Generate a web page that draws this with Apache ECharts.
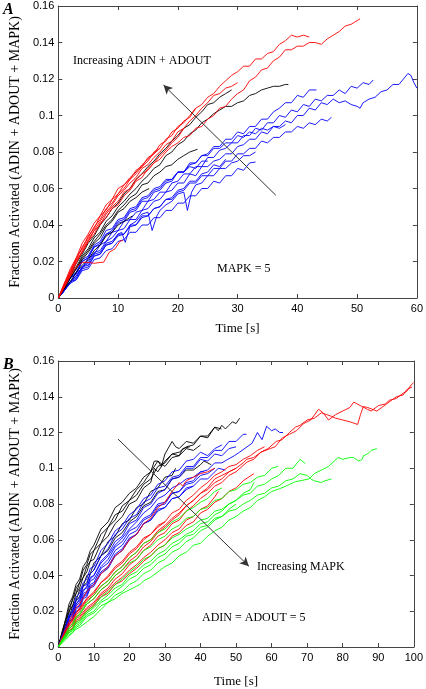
<!DOCTYPE html>
<html><head><meta charset="utf-8">
<script src="https://cdn.jsdelivr.net/npm/echarts@6/dist/echarts.min.js"></script>
<style>html,body{margin:0;padding:0;background:#fff}#c{width:426px;height:689px}</style>
</head><body><div id="c"></div>
<script>
// ---------- Panel A data (t [s], fraction) flat pairs ----------
const aRed = [
 [0,0,1,.007,2,.013,3,.021,4,.025,5,.031,6,.037,7,.04,8,.046,9,.05,10,.053,11,.058,12,.06,13,.065,14,.068,15,.07,16,.074,17,.076,18,.08,19,.083,20,.085,21,.088,22,.089,23,.093,24,.094,25,.098,26,.1,27,.104,28,.105,29,.109,30,.112,31,.114,32,.119,33,.121,34,.125,35,.126,36,.13,37,.132,38,.136,39,.136,40,.138,41,.138,42,.14,43,.14,44,.139,45,.142,46,.144,47,.146,48,.149,49,.15,50,.152,50.5,.153],
 [0,0,1,.008,2,.014,3,.022,4,.027,5,.034,6,.038,7,.045,8,.048,9,.054,10,.057,11,.062,12,.065,13,.07,14,.072,15,.077,16,.079,17,.084,18,.086,19,.091,20,.093,21,.097,22,.099,23,.104,24,.106,25,.11,26,.112,27,.116,28,.119,29,.122,30,.124,31,.127,32,.127,33,.131,34,.131,35,.134,36,.135,37,.139,38,.141,39,.144,40,.143,41,.144,42,.143],
 [0,0,1,.006,2,.014,3,.019,4,.026,5,.032,6,.037,7,.042,8,.047,9,.051,10,.056,11,.059,12,.063,13,.066,14,.071,15,.073,16,.077,17,.08,18,.084,19,.086,20,.091,21,.093,22,.097,23,.1,24,.104,25,.107,26,.111,27,.112,28,.115,29,.116,30,.118],
 [0,0,1,.007,2,.015,3,.021,4,.028,5,.033,6,.039,7,.043,8,.049,9,.052,10,.057,11,.06,12,.065,13,.068,14,.072,15,.075,16,.08,17,.082,18,.087,19,.089,20,.094,21,.096,22,.1,23,.104],
 [0,0,1,.006,2,.012,3,.02,4,.025,5,.031,6,.035,7,.041,8,.044,9,.049,10,.051,11,.056,12,.059,13,.064,14,.066,15,.071,16,.074,17,.078,18,.081,19,.085,20,.088,21,.093],
 [0,0,1,.008,2,.016,3,.022,4,.03,5,.035,6,.041,7,.045,8,.051,9,.054,10,.06,11,.062,12,.066,13,.069,14,.073,15,.076,16,.079,17,.082],
 [0,0,1,.006,2,.012,3,.017,4,.0195,5,.0195,6,.019,7,.0195,7.6,.0196,8.5,.025,9.5,.027,10.3,.031,10.8,.0316]
];
const aBlack = [
 [0,0,1,.006,2,.012,3,.017,4,.023,5,.027,6,.033,7,.036,8,.042,9,.045,10,.05,11,.053,12,.057,13,.06,14,.064,15,.067,16,.071,17,.073,18,.078,19,.08,20,.084,21,.086,22,.09,23,.092,24,.096,25,.098,26,.101,27,.103,28,.105,29,.105,30,.107,31,.108,32,.111,33,.112,34,.114,35,.115,36,.116,37,.116,38,.117,38.5,.117],
 [0,0,1,.007,2,.012,3,.019,4,.024,5,.03,6,.034,7,.04,8,.044,9,.049,10,.052,11,.057,12,.06,13,.065,14,.068,15,.072,16,.075,17,.079,18,.082,19,.086,20,.089,21,.093,22,.095,23,.099,24,.102,25,.106,26,.107,27,.11,28,.112,29,.114],
 [0,0,1,.005,2,.011,3,.016,4,.022,5,.026,6,.031,7,.035,8,.04,9,.043,10,.048,11,.051,12,.055,13,.057,14,.062,15,.063,16,.067,17,.069,18,.072,19,.073,20,.076,21,.078,22,.08,23.3,.0815],
 [0,0,1,.006,2,.011,3,.016,4,.021,5,.025,6,.03,7,.033,8,.039,9,.042,10,.047,11,.049,12,.053,13,.055,14,.058,15.2,.06],
 [0,0,1,.005,2,.009,3,.014,4,.018,5,.021,6,.026,7,.029,8,.034,9,.036,10,.04,11,.042,12.4,.045]
];
const aBlue = [
 [0,0,1,.004,2,.009,3,.012,4,.017,5,.02,6,.025,7,.026,8,.031,9,.033,10,.037,11,.038,12,.043,13,.043,14,.048,15,.049,16,.053,17,.054,18,.058,19,.059,20,.063,21,.063,22,.068,23,.067,24,.072,25,.072,26,.075,27,.076,28,.079,29,.079,30,.083,31,.084,32,.087,33,.087,34,.091,35,.09,36,.094,37,.094,38,.097,39,.096,40,.1,41,.1,42,.104,43,.103,44,.107,45,.106,46,.109,47,.107,48,.108,49,.106,50,.105,50.5,.104,51,.107,52,.109,53,.11,54,.113,55,.114,56,.117,57,.117,58,.121,58.5,.123,59,.122,59.5,.118,60,.115],
 [0,0,1,.005,2,.008,3,.014,4,.016,5,.022,6,.024,7,.029,8,.031,9,.036,10,.037,11,.042,12,.043,13,.047,14,.048,15,.053,16,.054,17,.058,18,.058,19,.063,20,.064,21,.068,22,.068,23,.072,24,.072,25,.077,26,.077,27,.081,28,.082,29,.085,30,.085,31,.089,32,.089,33,.093,34,.092,35,.096,36,.096,37,.1,38,.099,39,.103,40,.102,41,.106,42,.105,43,.109,44,.108,45,.111,46,.111,47,.114,48,.112,49,.116,50,.115,51,.118,52,.117,52.7,.1195],
 [0,0,1,.005,2,.011,3,.013,4,.02,5,.022,6,.028,7,.029,8,.035,9,.036,10,.041,11,.042,12,.047,13,.048,14,.053,15,.053,16,.058,17,.059,18,.063,19,.064,20,.069,21,.069,22,.074,23,.074,24,.078,25,.079,26,.083,27,.083,28,.087,29,.087,30,.091,31,.09,32,.094,33,.094,34,.098,35,.098,36,.102,37,.104,38,.107,39,.107,40,.111,41,.11,42,.114,43.2,.114],
 [0,0,1,.004,2,.009,3,.01,4,.016,5,.017,6,.023,7,.024,8,.029,9,.03,10,.035,11,.035,12,.04,13,.04,14,.045,15,.045,16,.049,17,.05,18,.054,19,.054,20,.058,21,.059,22,.063,23,.063,24,.067,25,.067,26,.071,27,.071,28,.075,29,.075,30,.079,31,.079,32,.082,33,.082,34,.086,35,.085,36,.088,37,.088,38,.091,39,.091,40,.094,41,.093,42,.096,43,.095,44,.098,45,.097,45.7,.099],
 [0,0,1,.004,2,.008,3,.01,4,.015,5,.016,6,.021,7,.022,8,.026,9,.027,10,.031,11,.032,12,.036,13,.036,14,.04,15,.04,16,.044,17,.044,18,.048,19,.048,20,.052,21,.052,22,.056,23,.056,24,.06,25,.06,26,.064,27,.063,28,.067,29,.067,30,.071,31,.07,32,.074,33,.0745],
 [0,0,1,.004,2,.009,3,.012,4,.017,5,.019,6,.024,7,.025,8,.03,9,.031,10,.035,10.6,.036,11.2,.0305,11.8,.037,12,.04,13,.042,14,.046,15,.047,15.7,.037,16.5,.045,17,.048,18,.051,19,.053,20,.057,21,.058,21.6,.048,22.3,.058,23,.062,24,.063,25,.067,26,.067,27,.071,28,.071,29,.074,30,.075,31,.078,32,.078,33,.08],
 [0,0,1,.005,2,.011,3,.014,4,.02,5,.022,6,.028,7,.03,8,.035,9,.037,10,.042,11,.043,12,.048,13,.049,14,.054,15,.055,16,.059,17,.06,18,.064,19,.065,20,.069,21,.069,22,.073,23,.074,24,.078,25,.078,26,.082,27,.082,28,.085,29,.085,30,.089,31,.088,32,.091,33,.09,34,.093,35,.092,36,.094,37,.093,38,.095],
 [0,0,1,.005,2,.011,3,.014,4,.021,5,.023,6,.029,7,.031,8,.037,9,.038,10,.043,11,.044,12,.049,13,.05,14,.055,15,.056,16,.06,17,.061,18,.065,19,.065,20,.069,21,.069,22,.072,23,.071,24,.075,25,.075],
 [0,0,1,.004,2,.009,3,.011,4,.017,5,.018,6,.023,7,.024,8,.029,9,.03,10,.034,11,.035,12,.039,13,.04,14,.044,15,.045,16,.049,17,.05,18,.054,19,.055,20,.059,21,.06,22,.064,23,.064,24,.068,25,.069,26,.073,27,.072,28,.076]
];
// ---------- Panel B data ----------
const bBlack = [
 [0,0,1,.008,2,.014,3,.022,4,.026,5,.033,6,.036,7,.043,8,.046,9,.052,10,.054,12,.063,14,.067,16,.074,18,.076,20,.082,22,.085,24,.091,26,.094,28,.101,30,.103,32,.108,34,.109,36,.112,38,.113,40,.118,42,.118,44,.123,45,.121,46,.124,47,.122,48,.124,49,.126,50,.125,51,.128],
 [0,0,1,.007,2,.015,3,.019,4,.027,5,.03,6,.036,7,.039,8,.045,9,.048,10,.054,12,.058,14,.067,16,.071,18,.079,20,.082,22,.088,24,.092,26,.098,27,.104,28,.104,29,.101,30,.108,32,.115,33,.112,34,.111,36,.115,38,.114,40,.118,42,.117,44,.123,45.9,.122],
 [0,0,1,.007,2,.012,3,.02,4,.023,5,.03,6,.033,7,.039,8,.042,9,.048,10,.049,12,.058,14,.062,16,.069,18,.073,20,.08,22,.082,24,.089,26,.092,27,.1,28,.098,30,.104,32,.108,34,.107,35,.111,37,.112],
 [0,0,1,.006,2,.012,3,.016,4,.023,5,.026,6,.032,7,.034,8,.04,9,.041,10,.047,12,.051,14,.059,16,.062,18,.069,20,.071,22,.078,24,.08,26,.087,28,.089,30,.095,32,.096,33,.1],
 [0,0,1,.006,2,.01,3,.017,4,.02,5,.026,6,.028,7,.034,8,.036,9,.041,10,.043,12,.051,14,.054,16,.061,18,.064,20,.07,22,.073,24,.079,26,.081,28,.087,30,.088,32,.094,34,.095,36,.099,38,.099,40,.102,41,.104,43,.102],
 [0,0,1,.008,2,.015,3,.024,4,.028,5,.035,6,.038,7,.045,8,.048,9,.054,10,.057,12,.066,14,.07,16,.078,18,.081,20,.086,22,.089,24,.095,26,.098,28,.104,30,.101,32,.106,34,.107,36,.111,38,.11,40,.113]
];
const bBlue = [
 [0,0,1,.005,2,.008,3,.014,4,.016,5,.022,6,.023,7,.029,8,.03,9,.035,10,.036,12,.044,14,.047,16,.054,18,.057,20,.063,22,.065,24,.071,26,.073,28,.079,30,.08,32,.086,34,.087,36,.092,38,.093,40,.098,42,.099,44,.103,46,.103,47.7,.105,49.5,.107,51,.109,53.1,.112,54.5,.114,56,.12,57.3,.116,58.6,.1235,60,.121,61,.122,62.3,.12,63.2,.12],
 [0,0,1,.006,2,.01,3,.017,4,.019,5,.026,6,.028,7,.034,8,.035,9,.041,10,.043,12,.051,14,.055,16,.063,18,.066,20,.072,22,.074,24,.081,26,.083,28,.089,30,.09,32,.095,34,.096,36,.101,38,.101,40,.106,42,.106,44,.11,46,.11,48,.115,50,.115,52,.119,52.9,.119],
 [0,0,1,.005,2,.009,3,.016,4,.018,5,.024,6,.026,7,.032,8,.033,9,.039,10,.04,12,.048,14,.052,16,.059,18,.062,20,.069,22,.071,24,.078,26,.08,28,.086,30,.088,32,.094,34,.095,36,.1,38,.1,40,.105,42,.104,44,.108,46,.107,48,.111,50,.112],
 [0,0,1,.004,2,.007,3,.013,4,.015,5,.02,6,.021,7,.027,8,.028,9,.033,10,.034,12,.041,14,.044,16,.051,18,.054,20,.06,22,.063,24,.069,26,.071,28,.076,30,.078,32,.083,34,.084,36,.089,38,.09,40,.094,42,.094,44,.098,45,.1,47,.099],
 [0,0,1,.006,2,.011,3,.018,4,.021,5,.028,6,.03,7,.036,8,.038,9,.044,10,.045,12,.054,14,.058,16,.065,18,.068,20,.074,22,.077,24,.083,26,.085,28,.091,30,.093,32,.098,34,.099,36,.104,38,.105,40,.109,42,.107,44,.111,46,.113],
 [0,0,1,.004,2,.008,3,.014,4,.016,5,.021,6,.023,7,.028,8,.029,9,.034,10,.035,12,.042,14,.045,16,.052,18,.055,20,.061,22,.063,24,.069,26,.071,28,.077,30,.078,32,.083,34,.084,36,.088,38,.09],
 [0,0,1,.005,2,.009,3,.015,4,.017,5,.023,6,.025,7,.03,8,.031,9,.037,10,.038,12,.045,14,.049,16,.056,18,.059,20,.065,22,.067,24,.072,26,.074,28,.08,30,.081,32,.086,34,.087,36,.091,38,.092,40,.096,42,.097,44,.1],
 [0,0,1,.005,2,.011,3,.016,4,.019,5,.024,6,.027,7,.031,8,.034,9,.038,10,.04,12,.047,14,.051,16,.057,18,.061,20,.066,22,.07,24,.075,26,.078,28,.083,30,.085,32,.089,34,.091,36,.094,38,.095,40,.098,41,.098]
];
const bRed = [
 [0,0,1,.004,2,.007,3,.011,4,.013,5,.017,6,.018,8,.024,10,.027,12,.032,14,.035,16,.04,18,.043,20,.048,22,.051,24,.056,26,.059,28,.064,30,.067,32,.071,34,.074,36,.079,38,.082,40,.086,42,.089,44,.094,46,.096,48,.098,50,.1,52,.103,53,.105,55,.106,57,.109,59.6,.111,61,.112,63,.117,65,.119,67,.121,69,.125,71,.127,73.2,.133,74.5,.131,76,.127,78,.13,80,.132,82,.134,83.1,.137,85,.135,86.9,.133,88,.132,90,.135,92,.136,93.1,.138,95,.139,97,.142,98,.143,99,.146,100,.148],
 [0,0,1,.004,2,.006,3,.01,4,.012,5,.016,6,.017,8,.022,10,.025,12,.03,14,.033,16,.038,18,.041,20,.046,22,.049,24,.054,26,.057,28,.062,30,.064,32,.069,34,.071,36,.076,38,.079,40,.083,42,.086,44,.09,46,.092,48,.096,50,.098,53.1,.1035,55,.105,57,.109,59,.111,61.3,.115,63,.116,65,.12,66.7,.123,68,.124,70,.127,72,.128,74,.131,75.5,.13,76.9,.129,78,.128,80,.127,82,.126,84.2,.1245,85,.13,85.8,.1345,87,.134,89.6,.132,91,.134,93,.137,95.1,.14,97,.141,98,.144,99.5,.1455],
 [0,0,1,.005,2,.008,3,.013,4,.015,5,.019,6,.021,8,.027,10,.03,12,.036,14,.039,16,.044,18,.047,20,.052,22,.055,24,.06,26,.063,28,.067,30,.07,32,.075,34,.077,36,.082,38,.085,40,.089,42,.092,44,.096,46,.098,48,.101,50,.102,52,.105,54,.107,56,.11,58,.112],
 [0,0,1,.004,2,.007,3,.012,4,.014,5,.018,6,.02,8,.026,10,.029,12,.034,14,.037,16,.042,18,.045,20,.05,22,.053,24,.058,26,.06,28,.065,30,.068,32,.072,34,.075,36,.079,38,.082,40,.086,42,.088,44,.092,46,.094,48,.098,50,.1],
 [0,0,1,.003,2,.006,3,.009,4,.011,5,.015,6,.016,8,.021,10,.024,12,.029,14,.032,16,.036,18,.039,20,.043,22,.046,24,.05,26,.053,28,.057,30,.06,32,.064,34,.066,36,.071,38,.073,40,.077,42,.079,44,.084,45,.087],
 [0,0,1,.005,2,.01,3,.014,4,.018,5,.022,6,.024,8,.031,10,.035,12,.041,14,.045,16,.051,18,.054,20,.06,22,.063,24,.069,26,.072,28,.078,30,.081,32,.087,34,.092,35,.09,36,.093,38,.095,40,.097,42,.098,44,.1],
 [0,0,1,.003,2,.006,3,.009,4,.01,5,.014,6,.015,8,.02,10,.023,12,.028,14,.03,16,.035,18,.037,20,.041,22,.044,24,.048,26,.051,28,.055,30,.057,32,.062,34,.064,36,.068,38,.07,40,.075,42,.077,44,.081,46,.083,48,.087,50,.089,52,.093,55,.097],
 [0,0,1,.004,2,.009,3,.012,4,.016,5,.019,6,.022,8,.027,10,.031,12,.036,14,.04,16,.045,18,.048,20,.053,22,.056,24,.061,26,.063,28,.068,30,.07]
];
const bGreen = [
 [0,0,1,.002,2,.004,3,.006,4,.008,5,.01,6,.011,8,.014,10,.017,12,.021,14,.025,16,.027,18,.03,20,.032,22,.034,23,.035,24,.037,26,.039,28,.042,30,.045,32,.047,34,.051,36,.053,38,.057,40,.058,42,.062,44,.065,46,.067,48,.071,50,.073,52,.076,54,.078,56,.082,58,.084,60,.087,62.3,.0886,64,.09,66.7,.0925,68,.093,70.5,.094,72,.097,74,.099,76,.101,78.7,.106,80,.105,82,.106,83,.106,84.5,.104,85.5,.105,85.8,.107,87,.108,88,.11,89.6,.111],
 [0,0,1,.003,2,.005,3,.008,4,.009,5,.012,6,.013,8,.018,10,.02,12,.025,14,.027,16,.031,18,.034,20,.038,22,.04,24,.044,26,.046,28,.05,30,.052,32,.056,34,.058,36,.062,38,.063,40,.067,42,.068,44,.072,46,.073,48,.076,50,.077,52,.08,54,.082,56,.085,58,.086,60,.089,62,.09,64,.093,66,.094,68,.097,70,.096,71,.094,72,.093,74,.092,75,.093,76.8,.094],
 [0,0,1,.003,2,.006,3,.009,4,.01,5,.014,6,.015,8,.02,10,.023,12,.028,14,.031,16,.035,18,.038,20,.042,22,.045,24,.049,26,.051,28,.055,30,.057,32,.061,34,.063,36,.066,38,.068,40,.071,42,.072,44,.076,46,.077,48,.08,50,.082,52,.085,54,.086,56,.09,58,.091,60,.094,62,.096,64,.1,66,.1,68,.105,69.5,.1025],
 [0,0,1,.003,2,.007,3,.01,4,.012,5,.016,6,.018,8,.024,10,.027,12,.032,14,.035,16,.04,18,.043,20,.047,22,.049,24,.054,26,.056,28,.06,30,.062,32,.066,34,.068,36,.072,38,.073,40,.077,42,.078,44,.082,46,.083,48,.087,50,.088,52,.091,54,.092,56,.095,58,.096,60,.1,61.8,.101],
 [0,0,1,.003,2,.006,3,.008,4,.01,5,.013,6,.014,8,.019,10,.022,12,.026,14,.029,16,.033,18,.035,20,.04,22,.042,24,.046,26,.048,28,.052,30,.054,32,.058,34,.06,36,.063,38,.065,40,.069,42,.07,44,.074,46,.076,48,.08,50,.082,52,.086,54,.088,55,.092],
 [0,0,1,.003,2,.005,3,.007,4,.008,5,.011,6,.012,8,.017,10,.019,12,.023,14,.025,16,.029,18,.031,20,.035,22,.037,24,.041,26,.043,28,.047,30,.049,32,.053,34,.055,36,.059,38,.061,40,.065,42,.067,44,.071,46,.073,48,.077,50,.08],
 [0,0,1,.004,2,.007,3,.011,4,.013,5,.017,6,.019,8,.025,10,.029,12,.034,14,.037,16,.042,18,.045,20,.05,22,.053,24,.058,26,.06,28,.064,30,.066,32,.07,34,.072,36,.076,38,.078,40,.081,42,.083,44,.087,46,.089]
];
// axis ranges / ticks
const yTicks = [0, 0.16, 0.02];
const xTicksA = [0, 60, 10];
const xTicksB = [0, 100, 10];
// annotation arrows in data coordinates [from, to]
const arrowA = [[36.4, 0.0563], [17.6, 0.1167]];
const arrowB = [[16.8, 0.1163], [53.6, 0.0452]];

function pairs(f){const o=[];for(let i=0;i<f.length;i+=2)o.push([f[i],f[i+1]]);return o;}

const AX = '#444';
const sans = 'Liberation Sans, Arial, sans-serif';
const serif = 'Liberation Serif, Times New Roman, serif';
function xAx(g, r, top, gap){
  return {gridIndex:g, type:'value', min:r[0], max:r[1], interval:r[2], position: top?'top':'bottom',
    axisLine:{show:true,onZero:false,lineStyle:{color:AX,width:1}},
    axisTick:{show:true,inside:true,length:4,lineStyle:{color:AX}},
    axisLabel:{show:!top,color:'#000',fontFamily:sans,fontSize:11,margin:5},
    splitLine:{show:false},
    name: top?'':'Time [s]', nameLocation:'middle', nameGap:gap||28,
    nameTextStyle:{color:'#000',fontFamily:serif,fontSize:13}};
}
function yAx(g, right){
  return {gridIndex:g, type:'value', min:yTicks[0], max:yTicks[1], interval:yTicks[2], position: right?'right':'left',
    axisLine:{show:true,onZero:false,lineStyle:{color:AX,width:1}},
    axisTick:{show:true,inside:true,length:4,lineStyle:{color:AX}},
    axisLabel:{show:!right,color:'#000',fontFamily:sans,fontSize:11,margin:4},
    splitLine:{show:false},
    name: right?'':'Fraction Activated (ADIN + ADOUT + MAPK)', nameLocation:'middle', nameGap:35, nameRotate:90,
    nameTextStyle:{color:'#000',fontFamily:serif,fontSize:14}};
}
const series=[];
function add(groups, color, g){
  groups.forEach(f=>series.push({type:'line',xAxisIndex:g*2,yAxisIndex:g*2,data:pairs(f),showSymbol:false,
    symbol:'none',silent:true,lineStyle:{color:color,width:0.9},animation:false}));
}
add(aBlue,'#0000ff',0); add(aBlack,'#000000',0); add(aRed,'#ff0000',0);
add(bBlack,'#000000',1); add(bBlue,'#0000ff',1); add(bRed,'#ff0000',1); add(bGreen,'#00ff00',1);
function arrowSeries(a,g){
  return {type:'line',xAxisIndex:g*2,yAxisIndex:g*2,data:[],silent:true,
    markLine:{silent:true,symbol:['none','arrow'],symbolSize:[7,9],animation:false,
      lineStyle:{color:'#333',width:1,type:'solid'},label:{show:false},
      data:[[{coord:a[0]},{coord:a[1]}]]}};
}
series.push(arrowSeries(arrowA,0), arrowSeries(arrowB,1));

const txt=(x,y,s,size)=>({type:'text',left:x,top:y,style:{text:s,fill:'#000',font:size+'px '+serif}});
const option={
  animation:false,
  grid:[{left:48,top:6,width:370,height:292},{left:48,top:361,width:367,height:289}],
  xAxis:[xAx(0,xTicksA,false,24),xAx(0,xTicksA,true),xAx(1,xTicksB,false,28),xAx(1,xTicksB,true)],
  yAxis:[yAx(0,false),yAx(0,true),yAx(1,false),yAx(1,true)],
  series:series,
  graphic:[
    {type:'text',left:3,top:2,style:{text:'A',fill:'#000',font:'italic bold 16px '+serif}},
    {type:'text',left:3,top:357,style:{text:'B',fill:'#000',font:'italic bold 16px '+serif}},
    txt(73,55,'Increasing ADIN + ADOUT',12),
    txt(217,263,'MAPK = 5',12),
    txt(257,561,'Increasing MAPK',12),
    txt(202,612,'ADIN = ADOUT = 5',12)
  ]
};
const chart=echarts.init(document.getElementById('c'),null,{renderer:'canvas'});
chart.setOption(option);
</script></body></html>
